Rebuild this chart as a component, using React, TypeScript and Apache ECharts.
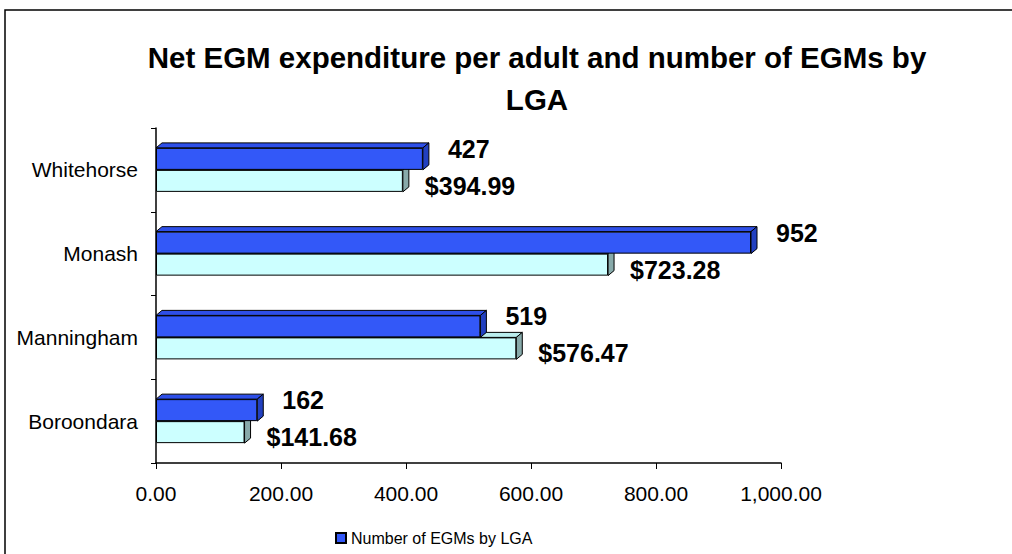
import React, { useEffect, useRef } from "react";
import * as echarts from "echarts";

const categories = ["Boroondara", "Manningham", "Monash", "Whitehorse"];
const egmCounts = [162, 519, 952, 427];
const expenditure = [141.68, 576.47, 723.28, 394.99];
const xTicks = { min: 0, max: 1000, interval: 200 };
const titleText = "Net EGM expenditure per adult and number of EGMs by\nLGA";
const seriesNames = ["Number of EGMs by LGA", "Net EGM expenditure per adult"];

const FONT = "'Liberation Sans', Arial, sans-serif";
const BAR_W = 22;
const DX = 6;
const DY = 5;

function makeExtrusion(
  name: string,
  values: number[],
  upper: boolean,
  topColor: string,
  sideColor: string
) {
  return {
    type: "custom",
    name: name + " 3d",
    z: 1,
    silent: true,
    data: values.map((v, i) => [v, i]),
    encode: { x: 0, y: 1 },
    renderItem: (params: any, api: any) => {
      const v = api.value(0);
      const idx = api.value(1);
      const end = api.coord([v, idx]);
      const start = api.coord([0, idx]);
      const yTop = upper ? end[1] - BAR_W : end[1];
      const yBot = yTop + BAR_W;
      const x0 = start[0];
      const x1 = end[0];
      const stroke = { stroke: "#000", lineWidth: 1 };
      return {
        type: "group",
        children: [
          {
            type: "polygon",
            shape: {
              points: [
                [x0, yTop],
                [x0 + DX, yTop - DY],
                [x1 + DX, yTop - DY],
                [x1, yTop],
              ],
            },
            style: { fill: topColor, ...stroke },
          },
          {
            type: "polygon",
            shape: {
              points: [
                [x1, yTop],
                [x1 + DX, yTop - DY],
                [x1 + DX, yBot - DY],
                [x1, yBot],
              ],
            },
            style: { fill: sideColor, ...stroke },
          },
        ],
      };
    },
  };
}

export default function App() {
  const ref = useRef<HTMLDivElement>(null);
  useEffect(() => {
    if (!ref.current) return;
    const chart = echarts.init(ref.current, undefined, { renderer: "svg" });
    chart.setOption({
      animation: false,
      backgroundColor: "#fff",
      title: {
        text: titleText,
        left: 537,
        textAlign: "center",
        top: 36,
        padding: 0,
        textStyle: {
          fontFamily: FONT,
          fontSize: 29.5,
          fontWeight: "bold",
          color: "#000",
          lineHeight: 42,
        },
      },
      graphic: [
        {
          type: "rect",
          shape: { x: 5, y: 10, width: 1100, height: 700 },
          style: { fill: "none", stroke: "#000", lineWidth: 1.5 },
          silent: true,
          z: 100,
        },
      ],
      legend: {
        data: [seriesNames[0]],
        left: 330,
        top: 525,
        itemWidth: 10,
        itemHeight: 10,
        itemGap: 10,
        icon: "rect",
        textStyle: { fontFamily: FONT, fontSize: 16, color: "#000" },
      },
      grid: { left: 156, width: 625, top: 128, bottom: 91, containLabel: false },
      xAxis: {
        type: "value",
        min: xTicks.min,
        max: xTicks.max,
        interval: xTicks.interval,
        splitLine: { show: false },
        axisLine: { show: true, lineStyle: { color: "#000", width: 1.5 } },
        axisTick: { show: true, length: 6, lineStyle: { color: "#000" } },
        axisLabel: {
          margin: 20,
          fontFamily: FONT,
          fontSize: 21,
          color: "#000",
          formatter: (v: number) =>
            v.toLocaleString("en-US", { minimumFractionDigits: 2, maximumFractionDigits: 2 }),
        },
      },
      yAxis: {
        type: "category",
        data: categories,
        axisLine: { show: true, lineStyle: { color: "#000", width: 1.5 } },
        axisTick: { show: true, length: 5, lineStyle: { color: "#000" } },
        axisLabel: { margin: 18, fontFamily: FONT, fontSize: 21, color: "#000" },
      },
      series: [
        makeExtrusion(seriesNames[1], expenditure, false, "#BBEEEE", "#88AAAA"),
        makeExtrusion(seriesNames[0], egmCounts, true, "#2E4FE8", "#2240C0"),
        {
          type: "bar",
          name: seriesNames[0],
          data: egmCounts,
          barWidth: BAR_W,
          barGap: "0%",
          z: 3,
          itemStyle: { color: "#3358F8", borderColor: "#000", borderWidth: 1 },
          label: {
            show: true,
            position: "right",
            offset: [20, -10],
            fontFamily: FONT,
            fontSize: 25,
            fontWeight: "bold",
            color: "#000",
            formatter: (p: any) => String(p.value),
          },
        },
        {
          type: "bar",
          name: seriesNames[1],
          data: expenditure,
          barWidth: BAR_W,
          barGap: "0%",
          z: 3,
          itemStyle: { color: "#CCFFFF", borderColor: "#000", borderWidth: 1 },
          label: {
            show: true,
            position: "right",
            offset: [17, 5],
            fontFamily: FONT,
            fontSize: 25,
            fontWeight: "bold",
            color: "#000",
            formatter: (p: any) => "$" + Number(p.value).toFixed(2),
          },
        },
      ],
    });
    return () => chart.dispose();
  }, []);
  return (
    <div
      ref={ref}
      style={{ position: "absolute", left: 0, top: 0, width: 1012, height: 554 }}
    />
  );
}
